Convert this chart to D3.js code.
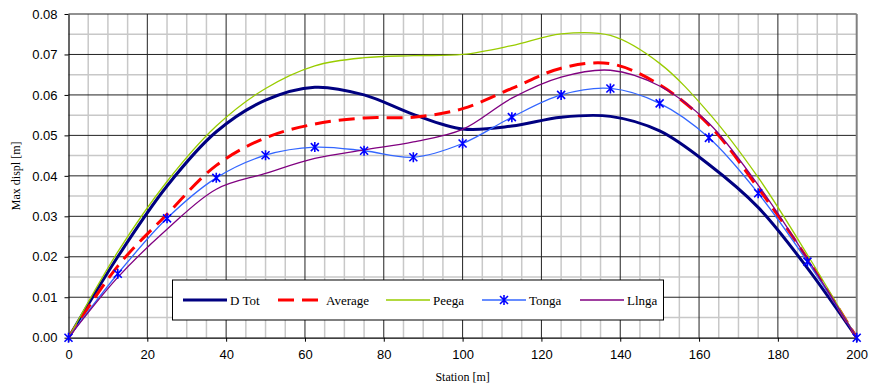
<!DOCTYPE html>
<html><head><meta charset="utf-8">
<script src="https://cdn.jsdelivr.net/npm/d3@7"></script>
<style>body{margin:0;background:#fff}</style>
</head><body><svg id="c" width="870" height="391"></svg>
<script>
const stations = [0,12.5,25,37.5,50,62.5,75,87.5,100,112.5,125,137.5,150,162.5,175,187.5,200];
const dTot    = [0,0.0200,0.0375,0.0509,0.0587,0.0619,0.0600,0.0552,0.0516,0.0523,0.0545,0.0547,0.0511,0.0428,0.0322,0.0172,0];
const average = [0,0.0177,0.0305,0.0426,0.0494,0.0528,0.0543,0.0545,0.0566,0.0616,0.0666,0.0677,0.0625,0.0526,0.0370,0.0195,0];
const peega   = [0,0.0212,0.0386,0.0523,0.0616,0.0672,0.0692,0.0697,0.0700,0.0722,0.0751,0.0747,0.0678,0.0555,0.0396,0.0205,0];
const tonga   = [0,0.0158,0.0295,0.0395,0.0451,0.0471,0.0462,0.0446,0.0480,0.0545,0.0600,0.0616,0.0579,0.0494,0.0357,0.0188,0];
const llnga   = [0,0.0149,0.0268,0.0367,0.0406,0.0443,0.0464,0.0484,0.0515,0.0592,0.0644,0.0661,0.0622,0.0530,0.0377,0.0195,0];
const xTicks = [0,20,40,60,80,100,120,140,160,180,200];
const yTicks = [0,0.01,0.02,0.03,0.04,0.05,0.06,0.07,0.08];
const seriesNames = ["D Tot","Average","Peega","Tonga","Llnga"];

const series = [
  {name:seriesNames[0], vals:dTot, color:"#000080", w:3, dash:null},
  {name:seriesNames[1], vals:average, color:"#FF0000", w:3, dash:"16,8"},
  {name:seriesNames[2], vals:peega, color:"#99CC00", w:1.3, dash:null},
  {name:seriesNames[3], vals:tonga, color:"#3366FF", w:1.3, dash:null, marker:true},
  {name:seriesNames[4], vals:llnga, color:"#800080", w:1.3, dash:null}
];

const svg = d3.select("#c");
const L=68.5, R=856.7, T=14, B=337.7;
const x = d3.scaleLinear().domain([0,200]).range([L,R]);
const y = d3.scaleLinear().domain([0,0.08]).range([B,T]);

// minor grid
const g = svg.append("g");
g.selectAll(".mx").data(d3.range(5,200,5).filter(v=>v%20!==0)).join("line")
  .attr("x1",d=>x(d)).attr("x2",d=>x(d)).attr("y1",T).attr("y2",B)
  .attr("stroke","#c8c8c8").attr("stroke-width",1.5);
g.selectAll(".my").data(d3.range(0.005,0.08,0.01)).join("line")
  .attr("x1",L).attr("x2",R).attr("y1",d=>y(d)).attr("y2",d=>y(d))
  .attr("stroke","#c8c8c8").attr("stroke-width",1.5);
// major grid
g.selectAll(".Mx").data(xTicks.slice(1,-1)).join("line")
  .attr("x1",d=>x(d)).attr("x2",d=>x(d)).attr("y1",T).attr("y2",B)
  .attr("stroke","#222").attr("stroke-width",1);
g.selectAll(".My").data(yTicks.slice(1)).join("line")
  .attr("x1",L).attr("x2",R).attr("y1",d=>y(d)).attr("y2",d=>y(d))
  .attr("stroke","#222").attr("stroke-width",1);
g.append("line").attr("x1",R).attr("x2",R).attr("y1",T).attr("y2",B)
  .attr("stroke","#808080").attr("stroke-width",2);

// axes
const xa = svg.append("g").attr("transform",`translate(0,${B})`)
  .call(d3.axisBottom(x).tickValues(xTicks).tickSize(4).tickPadding(8).tickSizeOuter(0));
const ya = svg.append("g").attr("transform",`translate(${L},0)`)
  .call(d3.axisLeft(y).tickValues(yTicks).tickFormat(d3.format(".2f")).tickSize(4).tickPadding(7).tickSizeOuter(0));
[xa,ya].forEach(a=>{
  a.selectAll("path").attr("stroke","#000").attr("stroke-width",1.2);
  a.selectAll("line").attr("stroke","#000");
  a.selectAll("text").attr("font-family","Liberation Sans, Arial, sans-serif").attr("font-size",13).attr("fill","#000");
});

// lines
const line = d3.line().curve(d3.curveCatmullRom.alpha(0.5));
series.forEach(s=>{
  svg.append("path").datum(stations.map((st,i)=>[x(st),y(s.vals[i])]))
    .attr("d",line).attr("fill","none").attr("stroke",s.color)
    .attr("stroke-width",s.w).attr("stroke-dasharray",s.dash);
});
const star = "M-4,-4L4,4M-4,4L4,-4M0,-5L0,5";
svg.append("g").selectAll("path").data(stations).join("path")
  .attr("transform",(d,i)=>`translate(${x(d)},${y(tonga[i])})`)
  .attr("d",star).attr("stroke","#0000FF").attr("stroke-width",1.6).attr("fill","none");

// axis titles
svg.append("text").attr("x",(L+R)/2).attr("y",381).attr("text-anchor","middle")
  .attr("font-family","Liberation Serif, serif").attr("font-size",12).text("Station [m]");
svg.append("text").attr("transform",`translate(20,${(T+B)/2}) rotate(-90)`).attr("text-anchor","middle")
  .attr("font-family","Liberation Serif, serif").attr("font-size",12).text("Max displ [m]");

// legend
const lg = svg.append("g");
lg.append("rect").attr("x",172.5).attr("y",280).attr("width",491).attr("height",40)
  .attr("fill","#fff").attr("stroke","#000").attr("stroke-width",1);
const lx = [183,278,386,482,580];
const ly = 300;
series.forEach((s,i)=>{
  lg.append("line").attr("x1",lx[i]).attr("x2",lx[i]+44).attr("y1",ly).attr("y2",ly)
    .attr("stroke",s.color).attr("stroke-width",s.w).attr("stroke-dasharray",s.dash?"16,8":null);
  if(s.marker) lg.append("path").attr("transform",`translate(${lx[i]+22},${ly})`).attr("d",star)
    .attr("stroke","#0000FF").attr("stroke-width",1.6);
  lg.append("text").attr("x",lx[i]+(s.dash?48:47)).attr("y",ly+4.5)
    .attr("font-family","Liberation Serif, serif").attr("font-size",13).text(s.name);
});
</script></body></html>
